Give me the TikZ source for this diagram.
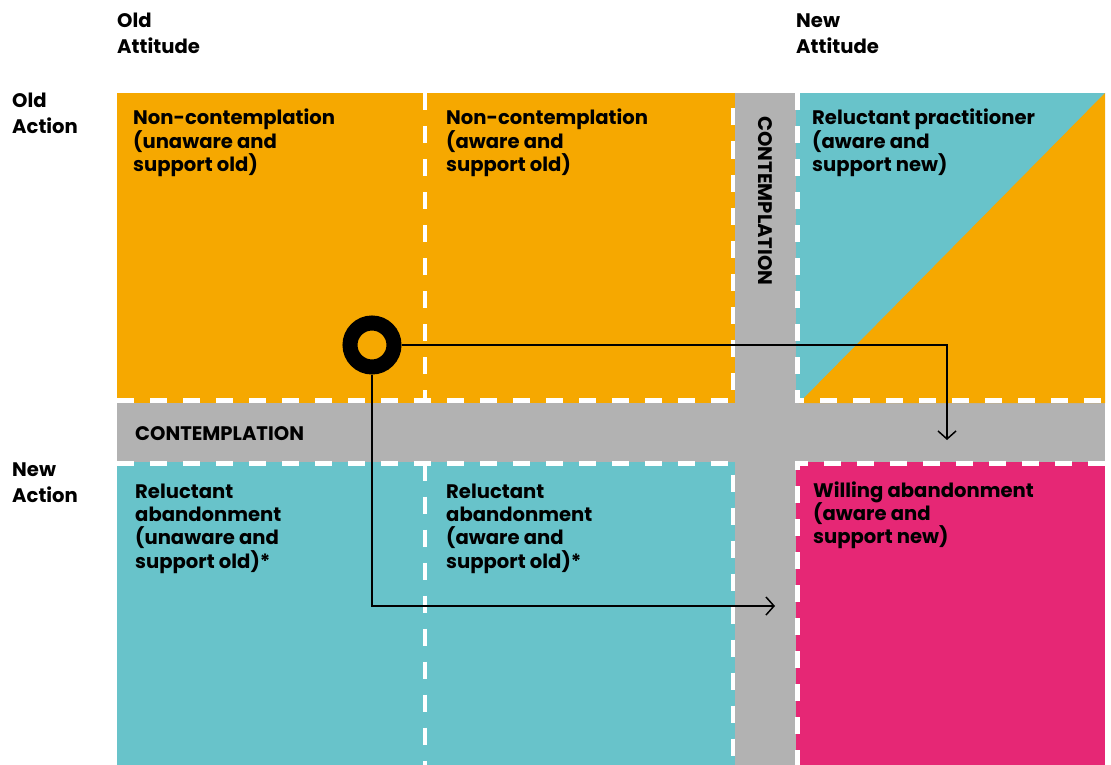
\documentclass[tikz,border=0pt]{standalone}
\usepackage{fontspec}
\setmainfont{Poppins}
\usetikzlibrary{arrows.meta}
\definecolor{cOrange}{HTML}{F6A800}
\definecolor{cTeal}{HTML}{68C3CA}
\definecolor{cMag}{HTML}{E62775}
\definecolor{cGray}{HTML}{B2B2B2}
\begin{document}
\begin{tikzpicture}[x=1pt,y=-1pt,
  wdash/.style={draw=white,line width=4.3pt,dash pattern=on 17pt off 16pt},
  lbl/.style={anchor=base west,inner sep=0pt,align=left,font=\fontsize{19.6}{23.4}\selectfont\bfseries},
  hdr/.style={anchor=base west,inner sep=0pt,align=left,font=\fontsize{19.6}{26}\selectfont\bfseries},
  arr/.style={draw=black,line width=1.5pt,-{Straight Barb[length=8pt,width=18pt,line width=1.5pt]}}]
\useasboundingbox (0,0) rectangle (1111,765);
% background gray (contemplation bands)
\fill[cGray] (117,93) rectangle (1105,765);
% cells
\fill[cOrange] (117,93) rectangle (735,403);
\fill[cTeal] (796,93) rectangle (1105,403);
\fill[cOrange] (799,403) -- (1105,93) -- (1105,403) -- cycle;
\fill[cTeal] (117,462) rectangle (735,765);
\fill[cMag] (796,462) rectangle (1105,765);
% dashed borders
\draw[wdash] (117,400.5) -- (733,400.5) -- (733,93);
\draw[wdash] (425,93) -- (425,400.5);
\draw[wdash] (797.5,93) -- (797.5,400.5) -- (1105,400.5);
\draw[wdash] (117,463.5) -- (733,463.5) -- (733,765);
\draw[wdash] (425,463.5) -- (425,765);
\draw[wdash] (1105,463.5) -- (797.5,463.5) -- (797.5,765);
% headers (base = baseline of last line)
\node[hdr] (oldatt) at (117,54) {Old\\Attitude};
\node[hdr] (newatt) at (796,54) {New\\Attitude};
\node[hdr] (oldact) at (12,134) {Old\\Action};
\node[hdr] (newact) at (12,502) {New\\Action};
% cell labels (base = baseline of last line)
\node[lbl] (c1) at (133,171.8) {Non-contemplation\\(unaware and\\support old)};
\node[lbl] (c2) at (446,171.8) {Non-contemplation\\(aware and\\support old)};
\node[lbl] (c3) at (812,171.8) {Reluctant practitioner\\(aware and\\support new)};
\node[lbl] (c4) at (135,568.2) {Reluctant\\abandonment\\(unaware and\\support old)*};
\node[lbl] (c5) at (446,568.2) {Reluctant\\abandonment\\(aware and\\support old)*};
\node[lbl] (c6) at (813,543.8) {Willing abandonment\\(aware and\\support new)};
\node[lbl] (ch) at (135,440) {CONTEMPLATION};
\node[inner sep=0pt,rotate=-90,font=\fontsize{19.6}{20}\selectfont\bfseries] (cv) at (765,201) {CONTEMPLATION};
% ring and arrows
\node[circle,draw=black,line width=15pt,minimum size=44pt,inner sep=0pt] (ring) at (372,345) {};
\coordinate (e1) at (947,440);
\coordinate (e2) at (775,606);
\draw[arr] (ring.east) -| (e1);
\draw[arr] (ring.south) |- (e2);
\end{tikzpicture}
\end{document}
